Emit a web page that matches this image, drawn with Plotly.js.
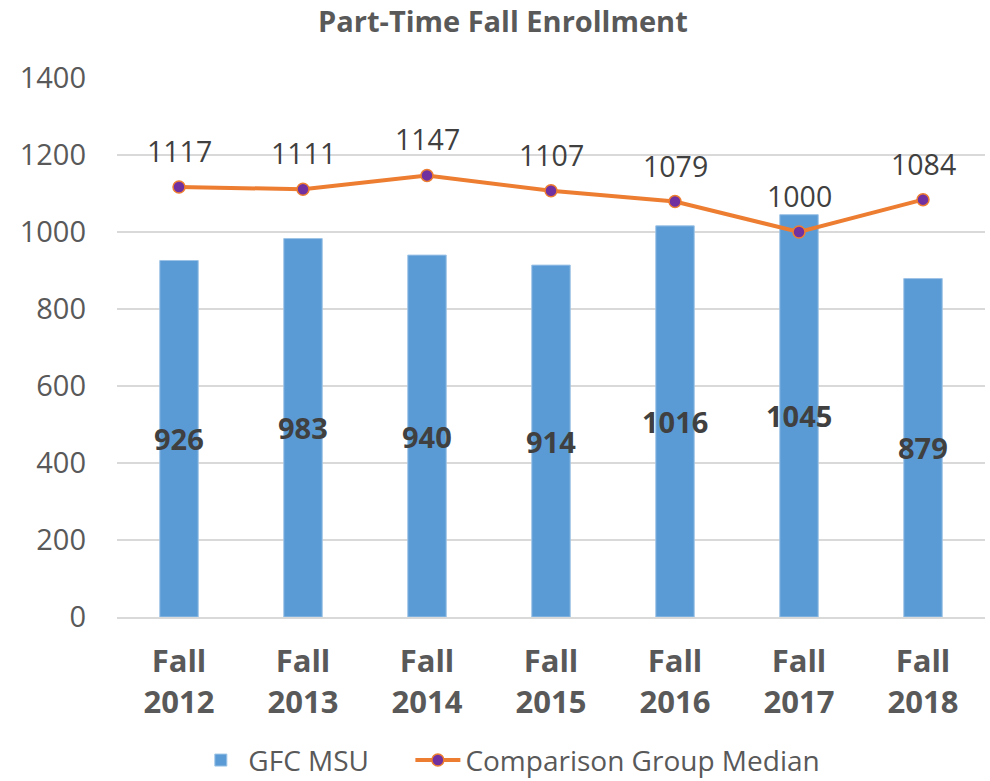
<!DOCTYPE html>
<html>
<head>
<meta charset="utf-8">
<script src="https://cdn.plot.ly/plotly-3.0.1.min.js"></script>
<style>html,body{margin:0;padding:0;background:#fff;}#chart{width:990px;height:781px;}</style>
</head>
<body>
<div id="chart"></div>
<script>
const categories = ["Fall<br>2012","Fall<br>2013","Fall<br>2014","Fall<br>2015","Fall<br>2016","Fall<br>2017","Fall<br>2018"];
const gfcMsu = [926, 983, 940, 914, 1016, 1045, 879];
const comparisonMedian = [1117, 1111, 1147, 1107, 1079, 1000, 1084];
const yTicks = [0, 200, 400, 600, 800, 1000, 1200, 1400];
const seriesNames = ["GFC MSU", "Comparison Group Median"];

const FONT = "Open Sans, Noto Sans, sans-serif";
const PAD = "\u00A0\u00A0\u00A0\u00A0\u00A0";

const traces = [
  {
    type: "bar",
    name: seriesNames[0] + PAD,
    x: categories,
    y: gfcMsu,
    marker: {color: "#5B9BD5", line: {color: "#9DC3E6", width: 1}}
  },
  {
    type: "scatter",
    mode: "lines+markers",
    name: seriesNames[1],
    x: categories,
    y: comparisonMedian,
    line: {color: "#ED7D31", width: 4},
    marker: {color: "#7030A0", size: 12, line: {color: "#ED7D31", width: 1.5}}
  }
];

const annotations = [];
categories.forEach((c, i) => {
  annotations.push({
    x: c, y: gfcMsu[i] / 2, xref: "x", yref: "y",
    text: String(gfcMsu[i]), showarrow: false, yanchor: "middle",
    font: {family: FONT, size: 29, color: "#404040", weight: "bold"}
  });
  annotations.push({
    x: c, y: comparisonMedian[i], xref: "x", yref: "y",
    text: String(comparisonMedian[i]), showarrow: false, yanchor: "middle", yshift: 36,
    font: {family: FONT, size: 28.5, color: "#404040"}
  });
});

const layout = {
  width: 990, height: 781,
  margin: {l: 117, r: 5, t: 78, b: 164, autoexpand: false},
  paper_bgcolor: "#fff", plot_bgcolor: "#fff",
  font: {family: FONT, color: "#595959"},
  title: {
    text: "<b>Part-Time Fall Enrollment</b>",
    font: {family: FONT, size: 29, color: "#595959"},
    x: 0.508, xref: "container", xanchor: "center",
    y: 0.972, yref: "container", yanchor: "middle"
  },
  bargap: 0.69,
  xaxis: {
    type: "category",
    automargin: false,
    tickangle: 0,
    tickfont: {family: FONT, size: 31, color: "#595959", weight: "bold"},
    showline: true, linecolor: "#D9D9D9", linewidth: 2,
    ticks: "", ticklabelstandoff: 16,
    showgrid: false, fixedrange: true
  },
  yaxis: {
    automargin: false,
    range: [0, 1400],
    tickvals: yTicks,
    tickfont: {family: FONT, size: 29, color: "#595959"},
    gridcolor: "#D9D9D9", gridwidth: 1.5,
    zeroline: false, showline: false,
    ticks: "", ticklabelstandoff: 30, fixedrange: true
  },
  showlegend: true,
  legend: {
    orientation: "h",
    x: 0.452, xanchor: "center",
    y: -0.266, yanchor: "middle",
    font: {family: FONT, size: 28, color: "#595959"},
    itemwidth: 45
  },
  annotations: annotations
};

Plotly.newPlot("chart", traces, layout, {displayModeBar: false, staticPlot: true});
</script>
</body>
</html>
